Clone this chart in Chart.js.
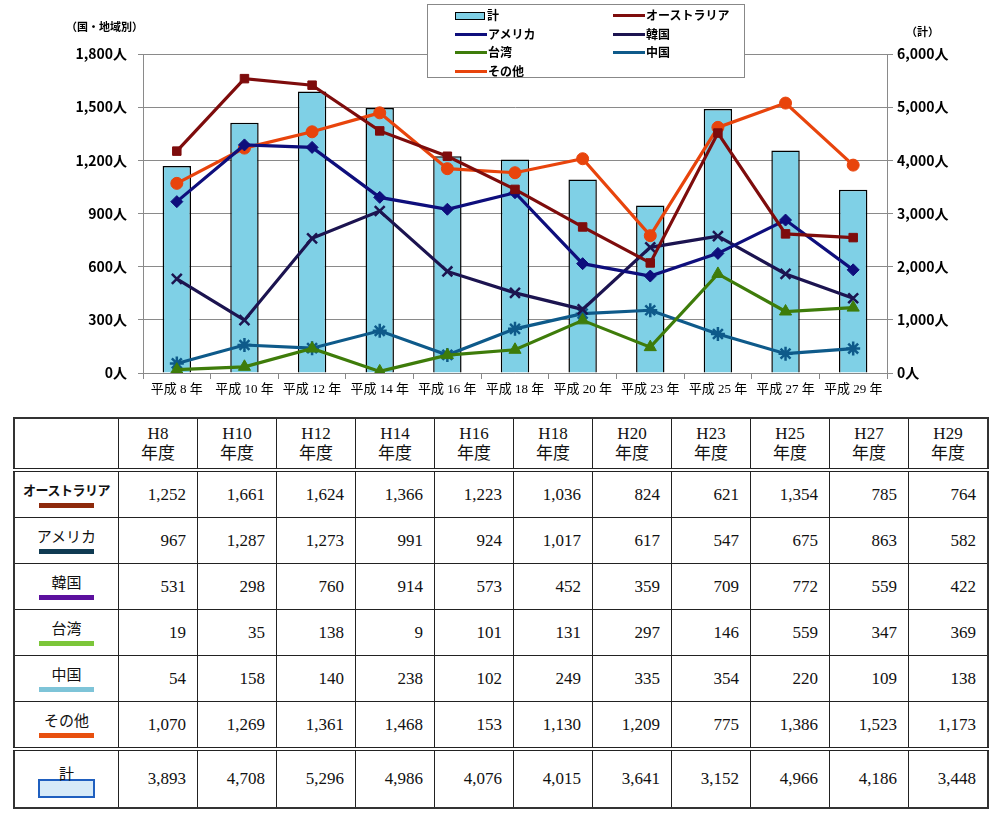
<!DOCTYPE html>
<html><head><meta charset="utf-8">
<script src="https://cdn.jsdelivr.net/npm/chart.js@4.4.1/dist/chart.umd.min.js"></script>
<style>
html,body{margin:0;padding:0;background:#fff;}
body{width:1000px;height:819px;position:relative;overflow:hidden;font-family:"Noto Sans CJK JP","Noto Sans",sans-serif;}
#c{position:absolute;left:0;top:0;}
.ttl{position:absolute;font-weight:bold;font-size:11px;color:#000;font-family:"Noto Sans CJK JP",sans-serif;}
#legend{position:absolute;left:427px;top:4px;width:316px;height:72px;border:1px solid #888;background:#fff;}
.li{position:absolute;height:16px;font-size:12px;font-weight:bold;line-height:16px;white-space:nowrap;}
.li .ln{display:inline-block;width:32px;height:3px;vertical-align:middle;margin-right:1px;position:relative;top:-1px;}
.li .bx{display:inline-block;width:28px;height:6px;border:1.5px solid #000;background:#7FD0E6;vertical-align:middle;margin-right:2px;position:relative;top:-1px;}
table{position:absolute;left:13px;top:417px;border-collapse:collapse;border:2px solid #333;font-family:"Liberation Serif","DejaVu Serif","Noto Sans CJK JP",serif;font-size:17px;color:#111;}
td,th{border:1.5px solid #222;padding:0;}
th{font-weight:normal;text-align:center;line-height:20px;height:49px;}
td.v{text-align:right;padding-right:11px;height:45px;}
tr.hd th{border-bottom:4px double #222;}
tr.tot td{border-top:4px double #222;height:56px;}
td.lab{text-align:center;vertical-align:top;font-family:"Noto Sans CJK JP",sans-serif;font-size:15px;}
td.lab .nm{display:block;margin-top:9px;line-height:18px;}
td.lab .sw{display:block;width:55px;height:5px;margin:4px auto 0;}
td.lab .sb{display:block;width:53px;height:15px;margin:-2px auto 0;border:2px solid #1F5FBF;background:#D6EAF8;}
</style></head>
<body>
<canvas id="c" width="1000" height="410"></canvas>
<div class="ttl" style="left:66px;top:18px;">（国・地域別）</div>
<div class="ttl" style="left:906px;top:23px;">（計）</div>
<div id="legend"></div>
<table id="tbl"></table>
<script>
// ---- data ----
const categories = ["平成 8 年","平成 10 年","平成 12 年","平成 14 年","平成 16 年","平成 18 年","平成 20 年","平成 23 年","平成 25 年","平成 27 年","平成 29 年"];
const tableHeaders = ["H8","H10","H12","H14","H16","H18","H20","H23","H25","H27","H29"];
const australia = [1252,1661,1624,1366,1223,1036,824,621,1354,785,764];
const america   = [967,1287,1273,991,924,1017,617,547,675,863,582];
const korea     = [531,298,760,914,573,452,359,709,772,559,422];
const taiwan    = [19,35,138,9,101,131,297,146,559,347,369];
const china     = [54,158,140,238,102,249,335,354,220,109,138];
const others    = [1070,1269,1361,1468,1153,1130,1209,775,1386,1523,1173];
const othersTableText = ["1,070","1,269","1,361","1,468","153","1,130","1,209","775","1,386","1,523","1,173"];
const total     = [3893,4708,5296,4986,4076,4015,3641,3152,4966,4186,3448];
const leftTicks = [0,300,600,900,1200,1500,1800];
const rightTicks = [0,1000,2000,3000,4000,5000,6000];

const fmt = v => v.toLocaleString('en-US');

const lineDefs = [
  {label:"オーストラリア", data:australia, color:"#7E0C0C", style:"rect", r:6},
  {label:"アメリカ", data:america, color:"#0E0E7C", style:"rectRot", r:6},
  {label:"韓国", data:korea, color:"#1C1450", style:"crossRot", r:7},
  {label:"台湾", data:taiwan, color:"#3E7C0A", style:"triangle", r:7},
  {label:"中国", data:china, color:"#0E5A8A", style:"star", r:7},
  {label:"その他", data:others, color:"#E8440C", style:"circle", r:6}
];

const datasets = [{
  type:'bar', label:"計", data:total, yAxisID:'y1', order:10,
  backgroundColor:'#7FD0E6', borderColor:'#000', borderWidth:1.5,
  barPercentage:0.42, categoryPercentage:1.0
}];
lineDefs.forEach((d,i)=>{
  datasets.push({
    type:'line', label:d.label, data:d.data, yAxisID:'y', order:i,
    borderColor:d.color, backgroundColor:d.color, borderWidth:3.2,
    pointStyle:d.style, pointRadius:d.r, pointBorderColor:d.color,
    pointBackgroundColor:d.color, pointBorderWidth:(d.style==='crossRot'||d.style==='star')?2.5:1,
    tension:0, fill:false
  });
});

new Chart(document.getElementById('c'), {
  type:'bar',
  data:{labels:categories, datasets},
  options:{
    responsive:false, animation:false,
    layout:{padding:{top:54,left:0,right:0,bottom:0}},
    plugins:{legend:{display:false}, tooltip:{enabled:false}},
    scales:{
      x:{
        offset:true,
        grid:{drawOnChartArea:false, color:'#888', tickLength:6, offset:true},
        border:{color:'#888', width:1},
        ticks:{color:'#000', maxRotation:0, autoSkip:false, padding:3,
               font:{family:'"Liberation Serif","Noto Sans CJK JP",serif', size:13}},
        afterFit:s=>{s.height=37;}
      },
      y:{
        position:'left', min:0, max:1800,
        afterBuildTicks:s=>{s.ticks=leftTicks.map(v=>({value:v}));},
        grid:{color:'#8a8a8a', lineWidth:1, tickLength:5},
        border:{color:'#8a8a8a', width:1},
        ticks:{color:'#000', padding:11, callback:v=>fmt(v)+'人',
               font:{family:'"Noto Sans CJK JP",sans-serif', size:14, weight:'bold'}},
        afterFit:s=>{s.width=143;}
      },
      y1:{
        position:'right', min:0, max:6000,
        afterBuildTicks:s=>{s.ticks=rightTicks.map(v=>({value:v}));},
        grid:{drawOnChartArea:false, color:'#8a8a8a', tickLength:6},
        border:{color:'#8a8a8a', width:1},
        ticks:{color:'#000', padding:4, callback:v=>fmt(v)+'人',
               font:{family:'"Noto Sans CJK JP",sans-serif', size:14, weight:'bold'}},
        afterFit:s=>{s.width=113;}
      }
    }
  }
});

// ---- legend (HTML) ----
const lg = document.getElementById('legend');
const legItems = [
  {label:"計", bar:true, x:27, y:4},
  {label:"オーストラリア", color:lineDefs[0].color, x:185, y:4},
  {label:"アメリカ", color:lineDefs[1].color, x:27, y:23},
  {label:"韓国", color:lineDefs[2].color, x:185, y:23},
  {label:"台湾", color:lineDefs[3].color, x:27, y:41},
  {label:"中国", color:lineDefs[4].color, x:185, y:41},
  {label:"その他", color:lineDefs[5].color, x:27, y:60}
];
legItems.forEach(it=>{
  const d=document.createElement('div'); d.className='li';
  d.style.left=it.x+'px'; d.style.top=(it.y-2)+'px';
  d.innerHTML = (it.bar?'<span class="bx"></span>':'<span class="ln" style="background:'+it.color+'"></span>') + it.label;
  lg.appendChild(d);
});

// ---- table ----
const rows = [
  {label:"オーストラリア", vals:australia.map(fmt), sw:"#8E2A0C", bold:true},
  {label:"アメリカ", vals:america.map(fmt), sw:"#0F3A52"},
  {label:"韓国", vals:korea.map(fmt), sw:"#5C109E"},
  {label:"台湾", vals:taiwan.map(fmt), sw:"#7CC63A"},
  {label:"中国", vals:china.map(fmt), sw:"#7EC4D8"},
  {label:"その他", vals:othersTableText, sw:"#E8500F"}
];
let html = '<tr class="hd"><th style="width:103px"></th>' + tableHeaders.map(h=>'<th style="width:78px">'+h+'<br>年度</th>').join('') + '</tr>';
rows.forEach(r=>{
  html += '<tr><td class="lab"><span class="nm" style="'+(r.bold?'font-weight:bold;font-size:13px;letter-spacing:-0.5px;':'')+'">'+r.label+'</span><span class="sw" style="background:'+r.sw+'"></span></td>' +
    r.vals.map(v=>'<td class="v">'+v+'</td>').join('') + '</tr>';
});
html += '<tr class="tot"><td class="lab"><span class="nm" style="margin-top:14px;line-height:16px;">計</span><span class="sb"></span></td>' + total.map(v=>'<td class="v">'+fmt(v)+'</td>').join('') + '</tr>';
document.getElementById('tbl').innerHTML = html;
</script>
</body></html>
